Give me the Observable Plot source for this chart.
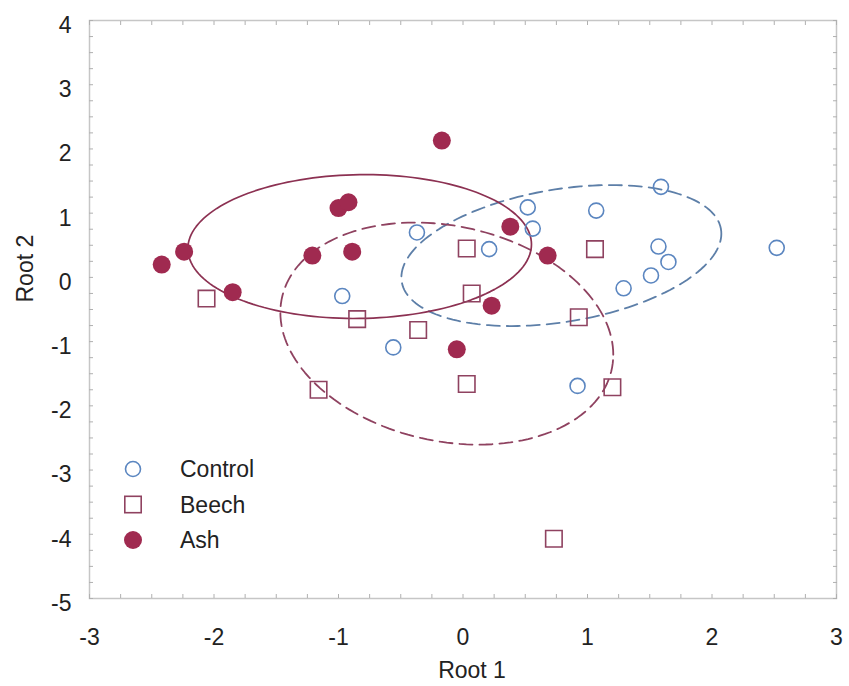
<!DOCTYPE html>
<html><head><meta charset="utf-8">
<script src="https://cdn.jsdelivr.net/npm/d3@7"></script>
<script src="https://cdn.jsdelivr.net/npm/@observablehq/plot@0.6"></script>
<style>
body{margin:0;background:#fff;}
#wrap{position:relative;width:849px;height:686px;font-family:"Liberation Sans",Arial,sans-serif;}
#legend{position:absolute;left:0;top:0;pointer-events:none;}
</style></head><body><div id="wrap"></div>
<script>
// ---- data ----
const groups = ["Control", "Beech", "Ash"];

const controlX = [-0.37, -0.97, -0.56, 0.21, 0.52, 0.56, 1.07, 1.59, 1.57, 1.65, 1.51, 1.29, 2.52, 0.92];
const controlY = [0.70, -0.29, -1.09, 0.44, 1.09, 0.76, 1.04, 1.41, 0.48, 0.24, 0.03, -0.17, 0.46, -1.69];

const beechX = [-2.06, -0.85, -0.36, 0.03, 0.07, 1.06, 0.93, 0.03, -1.16, 1.20, 0.73];
const beechY = [-0.33, -0.65, -0.82, 0.45, -0.25, 0.44, -0.62, -1.66, -1.75, -1.71, -4.07];

const ashX = [-2.42, -2.24, -1.85, -1.00, -0.92, -1.21, -0.89, -0.17, 0.38, 0.68, 0.23, -0.05];
const ashY = [0.20, 0.40, -0.23, 1.08, 1.17, 0.34, 0.40, 2.13, 0.79, 0.34, -0.44, -1.12];

// confidence ellipses (center, half-extent in x and y, correlation) per group
const ellipseCx = [0.79, -0.13, -0.83];
const ellipseCy = [0.34, -0.875, 0.48];
const ellipseRx = [1.285, 1.337, 1.38];
const ellipseRy = [1.098, 1.729, 1.12];
const ellipseRho = [0.31, -0.19, 0.03];

const xTicks = [-3, -2, -1, 0, 1, 2, 3];
const yTicks = [4, 3, 2, 1, 0, -1, -2, -3, -4, -5];
const minorStep = 0.25;

// ---- styles ----
const colControl = "#5b86c0";
const colControlLine = "#5d7fa8";
const colBeech = "#8f4260";
const colAsh = "#a02a50";
const colAshLine = "#8c3152";

// ---- tables ----
const control = controlX.map((x, i) => ({x, y: controlY[i]}));
const beech = beechX.map((x, i) => ({x, y: beechY[i]}));
const ash = ashX.map((x, i) => ({x, y: ashY[i]}));

const N = 160;
const ellipse = groups.map((g, k) => {
  const pts = [];
  const s = Math.sqrt(1 - ellipseRho[k] ** 2);
  for (let i = 0; i <= N; i++) {
    const t = 2 * Math.PI * i / N;
    pts.push({
      group: g,
      x: ellipseCx[k] + ellipseRx[k] * Math.cos(t),
      y: ellipseCy[k] + ellipseRy[k] * (ellipseRho[k] * Math.cos(t) + s * Math.sin(t))
    });
  }
  return pts;
});

const minorX = d3.range(xTicks[0], xTicks[xTicks.length - 1] + 1e-9, minorStep);
const minorY = d3.range(yTicks[yTicks.length - 1], yTicks[0] + 1e-9, minorStep);

const font = "Liberation Sans, Arial, sans-serif";
const chart = Plot.plot({
  width: 849,
  height: 686,
  marginLeft: 89,
  marginRight: 13,
  marginTop: 20,
  marginBottom: 88,
  x: {domain: [xTicks[0], xTicks[xTicks.length - 1]]},
  y: {domain: [yTicks[yTicks.length - 1], yTicks[0]]},
  style: {fontFamily: font, background: "#fff", color: "#222", overflow: "visible"},
  marks: [
    Plot.frame({stroke: "#c6c6c6", strokeWidth: 1.5}),
    Plot.axisX(minorX, {anchor: "bottom", tickSize: 4, dy: -4, stroke: "#b0b0b0", tickFormat: () => "", label: null}),
    Plot.axisX(minorX, {anchor: "top", tickSize: 4, dy: 4, stroke: "#b0b0b0", tickFormat: () => "", label: null}),
    Plot.axisY(minorY, {anchor: "left", tickSize: 4, dx: 4, stroke: "#b0b0b0", tickFormat: () => "", label: null}),
    Plot.axisY(minorY, {anchor: "right", tickSize: 4, dx: -4, stroke: "#b0b0b0", tickFormat: () => "", label: null}),
    Plot.axisX(xTicks, {anchor: "bottom", tickSize: 0, tickPadding: 30, fontSize: 23, label: null, tickFormat: d => String(d)}),
    Plot.axisY(yTicks, {anchor: "left", tickSize: 0, tickPadding: 18, dy: 5, fontSize: 23, label: null, tickFormat: d => String(d)}),
    Plot.text(["Root 1"], {frameAnchor: "bottom", dy: 72, dx: 9, fontSize: 23, fill: "#222", lineAnchor: "middle"}),
    Plot.text(["Root 2"], {frameAnchor: "left", dx: -64, dy: -7, rotate: -90, fontSize: 23, fill: "#222", lineAnchor: "middle"}),
    Plot.line(ellipse[0], {x: "x", y: "y", stroke: colControlLine, strokeWidth: 1.8, strokeDasharray: "13,7"}),
    Plot.line(ellipse[1], {x: "x", y: "y", stroke: colBeech, strokeWidth: 1.8, strokeDasharray: "13,7"}),
    Plot.line(ellipse[2], {x: "x", y: "y", stroke: colAshLine, strokeWidth: 1.7}),
    Plot.dot(control, {x: "x", y: "y", r: 7.5, stroke: colControl, strokeWidth: 1.6, fill: "none"}),
    Plot.dot(beech, {x: "x", y: "y", symbol: "square", r: 9.3, stroke: colBeech, strokeWidth: 1.6, fill: "none"}),
    Plot.dot(ash, {x: "x", y: "y", r: 9, fill: colAsh, stroke: "none"})
  ]
});
const wrap = document.getElementById("wrap");
wrap.appendChild(chart);

// ---- legend (overlay inside the plot frame) ----
const legendItems = [
  {label: groups[0], kind: "circle"},
  {label: groups[1], kind: "square"},
  {label: groups[2], kind: "dot"}
];
const lg = d3.select(wrap).append("svg").attr("id", "legend")
  .attr("width", 849).attr("height", 686);
const rows = lg.selectAll("g").data(legendItems).join("g")
  .attr("transform", (d, i) => `translate(133,${469 + i * 35.5})`);
rows.filter(d => d.kind === "circle").append("circle")
  .attr("r", 7.5).attr("fill", "none").attr("stroke", colControl).attr("stroke-width", 1.6);
rows.filter(d => d.kind === "square").append("rect")
  .attr("x", -8.2).attr("y", -8.2).attr("width", 16.4).attr("height", 16.4)
  .attr("fill", "none").attr("stroke", colBeech).attr("stroke-width", 1.6);
rows.filter(d => d.kind === "dot").append("circle")
  .attr("r", 9).attr("fill", colAsh);
rows.append("text").attr("x", 47).attr("dy", "0.35em")
  .attr("font-family", font).attr("font-size", 23).attr("fill", "#222")
  .text(d => d.label);
</script>
</body></html>
